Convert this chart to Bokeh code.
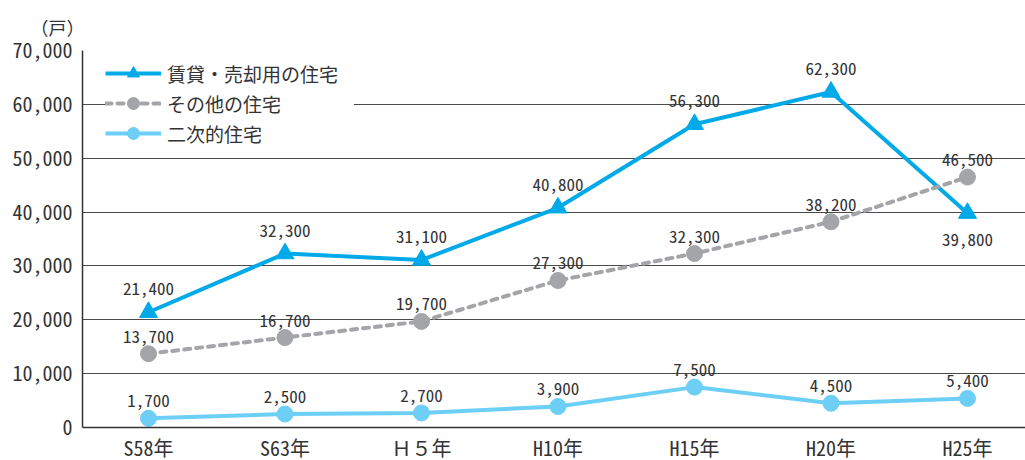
from bokeh.plotting import figure
from bokeh.models import (ColumnDataSource, Range1d, FixedTicker, Legend, LegendItem,
                          Label, NumeralTickFormatter)
from bokeh.embed import file_html
from bokeh.resources import INLINE

# Survey years (Showa / Heisei)
years = ["S58年", "S63年", "Ｈ５年", "H10年", "H15年", "H20年", "H25年"]

# Vacant dwellings by type (戸)
rental_sale = [21400, 32300, 31100, 40800, 56300, 62300, 39800]
other = [13700, 16700, 19700, 27300, 32300, 38200, 46500]
secondary = [1700, 2500, 2700, 3900, 7500, 4500, 5400]

series_names = ["賃貸・売却用の住宅", "その他の住宅", "二次的住宅"]
y_ticks = [0, 10000, 20000, 30000, 40000, 50000, 60000, 70000]

BLUE = "#00a9e8"
GRAY = "#a4a5a9"
LIGHT = "#6dcff6"
TEXT = "#333333"
NUM_FONT = "Noto Sans Mono CJK JP"
JP_FONT = "Noto Sans CJK JP"

xs = list(range(len(years)))

p = figure(width=1025, height=460, frame_width=943, frame_height=377,
           min_border_left=82, min_border_right=0, min_border_top=50, min_border_bottom=33,
           x_range=Range1d(-0.4835, 6.425), y_range=Range1d(0, 70000),
           output_backend="svg", toolbar_location=None)
p.outline_line_color = None
p.background_fill_color = "white"

# Unit caption above the value axis
p.title.text = "（戸）"
p.title.align = "left"
p.title.offset = -52
p.title.standoff = 22
p.title.text_font = JP_FONT
p.title.text_font_size = "18px"
p.title.text_font_style = "normal"
p.title.text_color = TEXT

# Axes
p.yaxis.ticker = FixedTicker(ticks=y_ticks)
p.yaxis.formatter = NumeralTickFormatter(format="0,0")
p.xaxis.ticker = FixedTicker(ticks=xs)
p.xaxis.major_label_overrides = {i: y for i, y in enumerate(years)}
for ax in (p.xaxis, p.yaxis):
    ax.major_tick_in = 0
    ax.major_tick_out = 0
    ax.minor_tick_in = 0
    ax.minor_tick_out = 0
    ax.axis_line_color = "#333333"
    ax.axis_line_width = 1.5
    ax.major_label_text_color = TEXT
    ax.major_label_text_font_size = "20px"
p.yaxis.major_label_text_font = NUM_FONT
p.yaxis.major_label_standoff = 10
p.xaxis.major_label_text_font = NUM_FONT
p.xaxis.major_label_standoff = 5

p.xgrid.grid_line_color = None
p.ygrid.grid_line_color = "#4a4a4a"
p.ygrid.grid_line_width = 1

src = ColumnDataSource(dict(x=xs, a=rental_sale, b=other, c=secondary))

# Series lines and markers
l1 = p.line("x", "a", source=src, line_color=BLUE, line_width=4)
m1 = p.scatter("x", "a", source=src, marker="triangle", size=18, color=BLUE)
l2 = p.line("x", "b", source=src, line_color=GRAY, line_width=4, line_dash="6 6",
            line_cap="round")
m2 = p.scatter("x", "b", source=src, marker="circle", size=16, color=GRAY)
l3 = p.line("x", "c", source=src, line_color=LIGHT, line_width=4)
m3 = p.scatter("x", "c", source=src, marker="circle", size=16, color=LIGHT)

# Value labels
def fmt(v):
    return f"{v:,}"

below_a = [False, False, False, False, False, False, True]
for i, v in enumerate(rental_sale):
    if below_a[i]:
        p.add_layout(Label(x=i, y=v, text=fmt(v), text_align="center", text_baseline="top",
                           y_offset=-20, text_font=NUM_FONT, text_font_size="17px",
                           text_color=TEXT))
    else:
        p.add_layout(Label(x=i, y=v, text=fmt(v), text_align="center", text_baseline="bottom",
                           y_offset=17, text_font=NUM_FONT, text_font_size="17px",
                           text_color=TEXT))
for series in (other, secondary):
    for i, v in enumerate(series):
        p.add_layout(Label(x=i, y=v, text=fmt(v), text_align="center", text_baseline="bottom",
                           y_offset=11, text_font=NUM_FONT, text_font_size="17px",
                           text_color=TEXT))

legend = Legend(items=[LegendItem(label=series_names[0], renderers=[l1, m1]),
                       LegendItem(label=series_names[1], renderers=[l2, m2]),
                       LegendItem(label=series_names[2], renderers=[l3, m3])],
                location=(23, 279))
legend.border_line_color = None
legend.background_fill_color = "white"
legend.background_fill_alpha = 1.0
legend.padding = 0
legend.margin = 0
legend.spacing = 0
legend.glyph_width = 56
legend.glyph_height = 30
legend.label_height = 30
legend.label_width = 187
legend.label_standoff = 6
legend.label_text_font = JP_FONT
legend.label_text_font_size = "19px"
legend.label_text_color = TEXT
legend.label_text_baseline = "middle"
p.add_layout(legend)

open("out.html", "w").write(file_html(p, INLINE))
